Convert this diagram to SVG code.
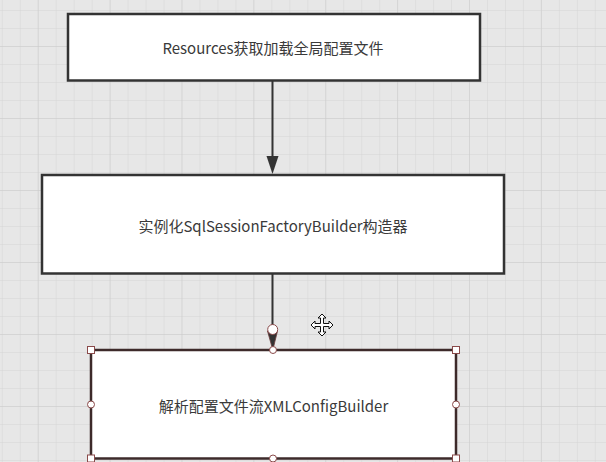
<svg xmlns="http://www.w3.org/2000/svg" width="606" height="462" viewBox="0 0 606 462">
  <defs>
    <pattern id="minor" patternUnits="userSpaceOnUse" x="1.8" y="10" width="17.97" height="18">
      <path d="M0 0 V18 M0 0 H17.97" fill="none" stroke="#d5d5d5" stroke-width="1"/>
    </pattern>
    <pattern id="major" patternUnits="userSpaceOnUse" x="37.7" y="46" width="71.88" height="72">
      <path d="M0 0 V72 M0 0 H71.88" fill="none" stroke="#cbcbcb" stroke-width="1"/>
    </pattern>
  </defs>
  <style>
    .box { fill: #ffffff; stroke: #333333; stroke-width: 2.5; }
    .sel { fill: #ffffff; stroke: #3d2a2a; stroke-width: 2.5; }
    .lbl { font-family: "Noto Sans CJK SC", "Noto Sans", sans-serif; font-size: 15px; fill: #3a3a3a; text-anchor: middle; dominant-baseline: central; }
    .edge { fill: none; stroke: #333333; stroke-width: 2; }
    .head { fill: #333333; }
    .hsq { fill: #ffffff; stroke: #8a4a4a; stroke-width: 1; }
    .hci { fill: #ffffff; stroke: #8a4a4a; stroke-width: 1; }
  </style>
  <rect x="0" y="0" width="606" height="462" fill="#e7e7e7"/>
  <rect x="0" y="0" width="606" height="462" fill="url(#minor)"/>
  <rect x="0" y="0" width="606" height="462" fill="url(#major)"/>

  <g id="connectors">
    <line class="edge" x1="272.5" y1="81" x2="272.5" y2="158"/>
    <path class="head" d="M266.5 156 L278.5 156 L272.5 174 Z"/>
    <line class="edge" x1="272.5" y1="274" x2="272.5" y2="330"/>
    <path d="M267.5 331 L277.5 331 L272.8 350 Z" fill="#333" stroke="#6a3a3a" stroke-width="0.8"/>
    <circle class="hci" cx="272.7" cy="329.5" r="5"/>
  </g>

  <g id="node1">
    <rect class="box" x="68" y="14" width="412" height="66.5"/>
    <text class="lbl" x="273" y="47">Resources获取加载全局配置文件</text>
  </g>

  <g id="node2">
    <rect class="box" x="42" y="175" width="462" height="98.5"/>
    <text class="lbl" x="273" y="225">实例化SqlSessionFactoryBuilder构造器</text>
  </g>

  <g id="node3">
    <rect class="sel" x="91" y="350" width="365" height="108.5"/>
    <text class="lbl" x="273.5" y="405">解析配置文件流XMLConfigBuilder</text>
    <rect class="hsq" x="87.5" y="346.5" width="7" height="7"/>
    <rect class="hsq" x="452.5" y="346.5" width="7" height="7"/>
    <rect class="hsq" x="87.5" y="455" width="7" height="7"/>
    <rect class="hsq" x="452.5" y="455" width="7" height="7"/>
    <circle class="hci" cx="273" cy="350" r="3.5"/>
    <circle class="hci" cx="91" cy="404.5" r="3.5"/>
    <circle class="hci" cx="456" cy="404.5" r="3.5"/>
    <circle class="hci" cx="273" cy="458.5" r="3.5"/>
  </g>

  <path d="M322 314 L326 318 L323.5 318 L323.5 323.5 L329 323.5 L329 321 L333 325 L329 329 L329 326.5 L323.5 326.5 L323.5 332 L326 332 L322 336 L318 332 L320.5 332 L320.5 326.5 L315 326.5 L315 329 L311 325 L315 321 L315 323.5 L320.5 323.5 L320.5 318 L318 318 Z" fill="#ffffff" stroke="#111111" stroke-width="1"/>
</svg>
